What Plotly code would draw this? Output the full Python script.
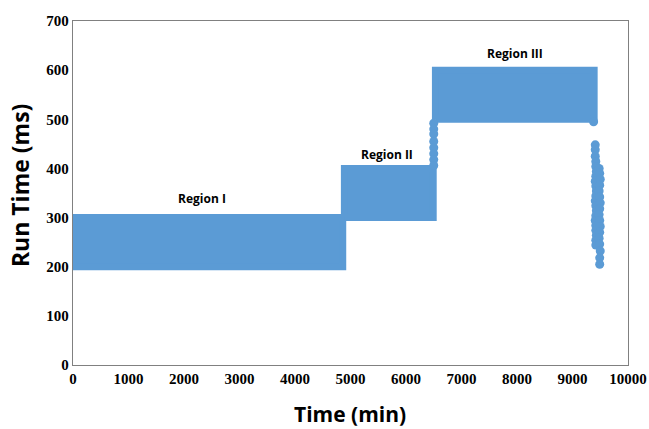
import plotly.graph_objects as go

# Region bounds
region_names = ["Region I", "Region II", "Region III"]
region_x_start = [0, 4890, 6530]
region_x_end = [4860, 6490, 9390]
region_y_min = [200, 300, 500]
region_y_max = [300, 400, 600]

# Region label positions
label_x = [2330, 5650, 7960]
label_y = [338, 428, 633]

# Sparse transition points
trans_x = [6500, 6500, 6500, 6500, 6500, 6500, 6500, 6500,
           9380,
           9410, 9410, 9410, 9420, 9420, 9430, 9420, 9410, 9420, 9430, 9420, 9410,
           9420, 9430, 9420, 9410, 9420, 9420, 9430, 9420, 9420,
           9480, 9490, 9500, 9490, 9480, 9490, 9500, 9490, 9480, 9490, 9500, 9490,
           9480, 9490, 9500, 9490, 9490]
trans_y = [492, 480, 470, 455, 442, 430, 418, 406,
           495,
           448, 438, 425, 414, 404, 394, 384, 374, 364, 354, 344, 334,
           324, 314, 304, 294, 284, 274, 264, 254, 244,
           400, 390, 378, 366, 354, 342, 330, 318, 306, 294, 282, 270,
           258, 246, 232, 218, 205]

# Tick labels
x_ticks = list(range(0, 10001, 1000))
y_ticks = list(range(0, 701, 100))

color = "#5B9BD5"
fig = go.Figure()

for i in range(len(region_names)):
    xs = [region_x_start[i], region_x_end[i], region_x_end[i], region_x_start[i], region_x_start[i]]
    ys = [region_y_min[i], region_y_min[i], region_y_max[i], region_y_max[i], region_y_min[i]]
    fig.add_trace(go.Scatter(x=xs, y=ys, mode="lines", fill="toself", fillcolor=color,
                             line=dict(color=color, width=7), hoverinfo="skip", showlegend=False))

fig.add_trace(go.Scatter(x=trans_x, y=trans_y, mode="markers",
                         marker=dict(color=color, size=9), showlegend=False))

for i in range(len(region_names)):
    fig.add_annotation(x=label_x[i], y=label_y[i], text="<b>%s</b>" % region_names[i],
                       showarrow=False, font=dict(family="Open Sans", size=12, color="black"))

# Axis titles as paper annotations
fig.add_annotation(xref="paper", yref="paper", x=0.499, y=-0.142, text="<b>Time (min)</b>",
                   showarrow=False, xanchor="center", yanchor="middle",
                   font=dict(family="Open Sans", size=21, color="black"))
fig.add_annotation(xref="paper", yref="paper", x=-0.0955, y=0.523, text="<b>Run Time (ms)</b>",
                   showarrow=False, xanchor="center", yanchor="middle", textangle=-90,
                   font=dict(family="Open Sans", size=23, color="black"))

axis_font = dict(family="Liberation Serif", size=15, color="black")
fig.update_xaxes(range=[0, 10000], tickvals=x_ticks, ticktext=["<b>%d</b>" % v for v in x_ticks],
                 tickfont=axis_font, showgrid=False, zeroline=False, showline=True,
                 linecolor="#808080", linewidth=1.3, mirror=True, ticks="", automargin=False)
fig.update_yaxes(range=[0, 700], tickvals=y_ticks, ticktext=["<b>%d</b>" % v for v in y_ticks],
                 tickfont=axis_font, showgrid=False, zeroline=False, showline=True,
                 linecolor="#808080", linewidth=1.3, mirror=True, ticks="", automargin=False)

fig.update_layout(width=649, height=429, margin=dict(l=73, r=21, t=21, b=64),
                  plot_bgcolor="white", paper_bgcolor="white")

fig.write_html("out.html")
